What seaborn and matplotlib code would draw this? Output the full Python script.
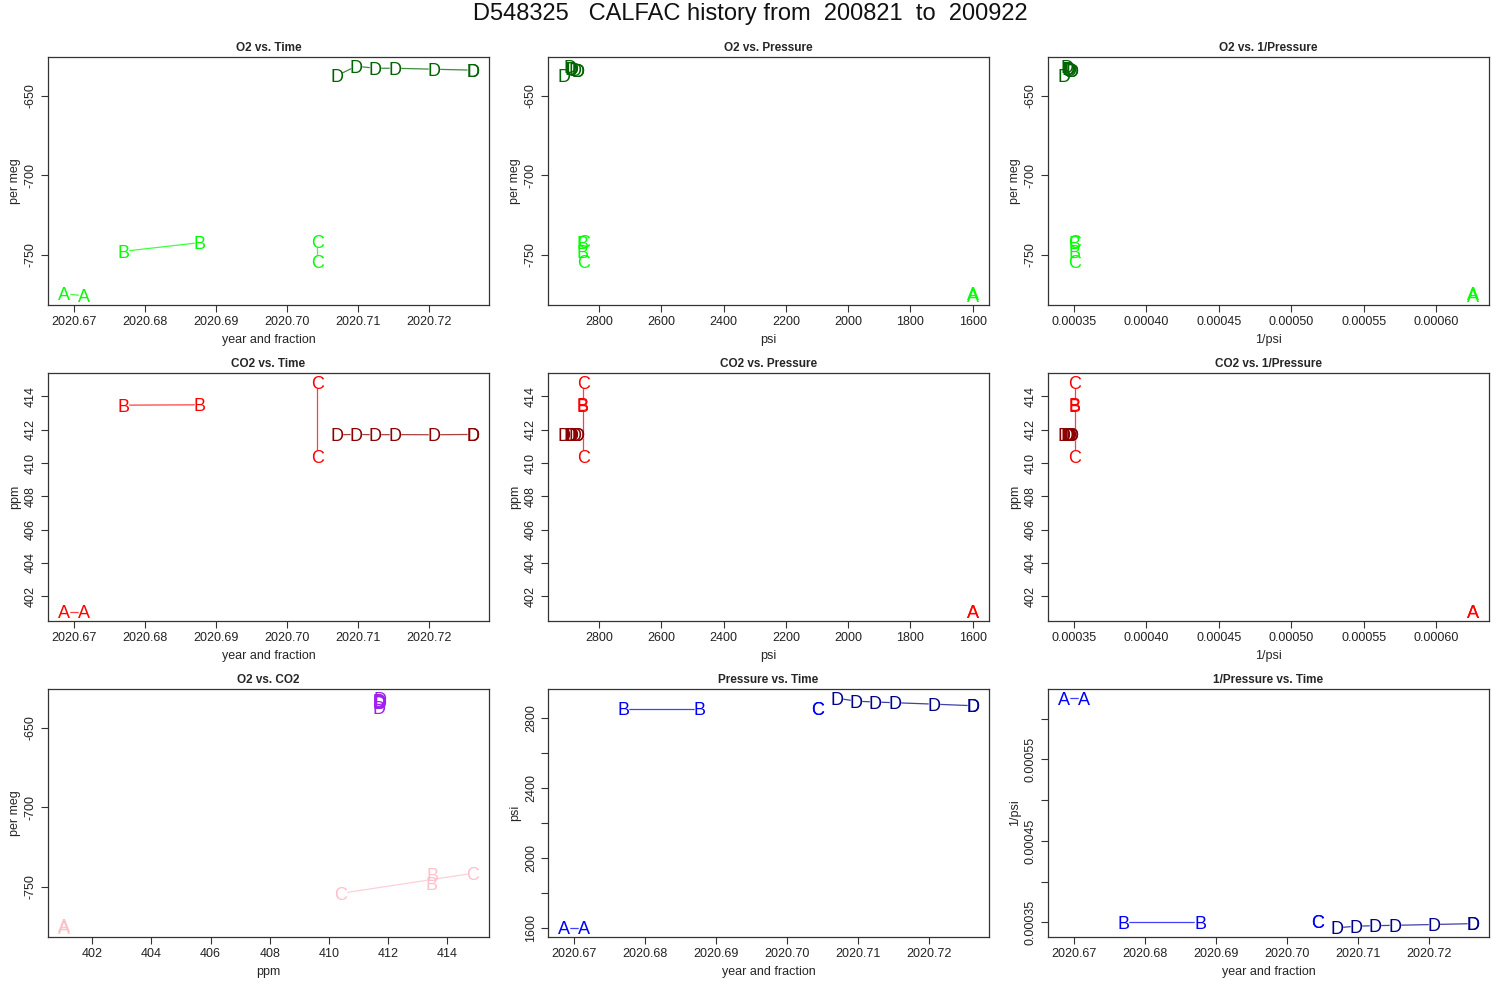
import numpy as np
import pandas as pd
import matplotlib
matplotlib.use("Agg")
import matplotlib.pyplot as plt
import seaborn as sns

# ---------------- data ----------------
groups = ["A", "A", "B", "B", "C", "C", "D", "D", "D", "D", "D", "D", "D"]
time_yr = [2020.6687, 2020.6715, 2020.6770, 2020.6878, 2020.7043, 2020.7043,
           2020.7071, 2020.7098, 2020.7125, 2020.7153, 2020.7207, 2020.7262, 2020.7262]
o2_permeg = [-774.3, -775.6, -747.7, -742.2, -741.4, -754.0,
             -637.4, -631.5, -632.8, -632.8, -633.4, -634.0, -634.2]
co2_ppm = [401.06, 401.06, 413.48, 413.50, 414.86, 410.40,
           411.70, 411.72, 411.70, 411.71, 411.70, 411.72, 411.71]
pressure_psi = [1600, 1600, 2853, 2853, 2851, 2851,
                2912, 2895, 2890, 2886, 2878, 2869, 2868]

main_title = "D548325   CALFAC history from  200821  to  200922"

time_ticks = [2020.67, 2020.68, 2020.69, 2020.70, 2020.71, 2020.72]
psi_ticks = [1600, 1800, 2000, 2200, 2400, 2600, 2800]
invpsi_ticks = [0.00035, 0.00040, 0.00045, 0.00050, 0.00055, 0.00060]
co2_ticks = [402, 404, 406, 408, 410, 412, 414]
o2_ticks = [-750, -700, -650]

pal_o2 = {"A": "#00FF00", "B": "#00FF00", "C": "#00FF00", "D": "#006400"}
pal_co2 = {"A": "#FF0000", "B": "#FF0000", "C": "#FF0000", "D": "#8B0000"}
pal_mix = {"A": "#FFC0CB", "B": "#FFC0CB", "C": "#FFC0CB", "D": "#A020F0"}
pal_p = {"A": "#0000FF", "B": "#0000FF", "C": "#0000FF", "D": "#00008B"}

df = pd.DataFrame({"grp": groups, "time": time_yr, "o2": o2_permeg,
                   "co2": co2_ppm, "psi": pressure_psi})
df["invpsi"] = 1.0 / df["psi"]

# ---------------- style ----------------
sns.set_theme(style="ticks")
plt.rcParams["font.family"] = ["Liberation Sans", "DejaVu Sans"]
plt.rcParams["axes.edgecolor"] = "#333333"
plt.rcParams["axes.linewidth"] = 0.9
plt.rcParams["xtick.color"] = "#333333"
plt.rcParams["ytick.color"] = "#333333"
plt.rcParams["xtick.labelcolor"] = "#222222"
plt.rcParams["ytick.labelcolor"] = "#222222"

fig = plt.figure(figsize=(15, 10), dpi=100)
fig.text(0.5, 0.986, main_title, ha="center", va="center", fontsize=17, color="#111111")

col_left = [0.032, 0.3653, 0.6987]
row_bottom = [0.695, 0.379, 0.063]
W, H = 0.294, 0.248


def rlim(vals):
    lo, hi = float(np.min(vals)), float(np.max(vals))
    pad = 0.04 * (hi - lo)
    return lo - pad, hi + pad


def panel(r, c, xcol, ycol, pal, title, xlabel, ylabel, xticks, yticks,
          xfmt, yfmt, xrev=False, ylabel_every=1):
    ax = fig.add_axes([col_left[c], row_bottom[r], W, H])
    sns.lineplot(data=df, x=xcol, y=ycol, hue="grp", palette=pal,
                 estimator=None, sort=False, legend=False, ax=ax,
                 linewidth=0.9, alpha=0.75)
    for line in ax.get_lines():
        line.set_zorder(2)
    # white discs under each letter: the small gaps of R's type="b"
    sns.scatterplot(data=df, x=xcol, y=ycol, color="white", s=70,
                    linewidth=0, legend=False, ax=ax, zorder=3)
    for _, row in df.iterrows():
        ax.text(row[xcol], row[ycol], row["grp"], color=pal[row["grp"]],
                ha="center", va="center_baseline", fontsize=13, zorder=5)
    xl = rlim(df[xcol])
    yl = rlim(df[ycol])
    ax.set_xlim(xl[::-1] if xrev else xl)
    ax.set_ylim(yl)
    ax.set_xticks(xticks)
    ax.set_xticklabels([xfmt(v) for v in xticks])
    ax.set_yticks(yticks)
    ax.set_yticklabels([yfmt(v) if i % ylabel_every == 0 else ""
                        for i, v in enumerate(yticks)])
    ax.tick_params(axis="both", direction="out", length=5, width=0.8,
                   labelsize=9, pad=3)
    for lab in ax.get_yticklabels():
        lab.set_rotation(90)
        lab.set_va("center")
    ax.set_title(title, fontsize=8.5, fontweight="bold", pad=4)
    ax.set_xlabel(xlabel, fontsize=9, labelpad=4)
    ax.set_ylabel(ylabel, fontsize=9, labelpad=3)
    for s in ax.spines.values():
        s.set_visible(True)
        s.set_zorder(6)
    return ax


ftime = lambda v: f"{v:.2f}"
fint = lambda v: f"{v:d}" if isinstance(v, int) else f"{v:.0f}"
finv = lambda v: f"{v:.5f}"

panel(0, 0, "time", "o2", pal_o2, "O2 vs. Time", "year and fraction", "per meg",
      time_ticks, o2_ticks, ftime, fint)
panel(0, 1, "psi", "o2", pal_o2, "O2 vs. Pressure", "psi", "per meg",
      psi_ticks, o2_ticks, fint, fint, xrev=True)
panel(0, 2, "invpsi", "o2", pal_o2, "O2 vs. 1/Pressure", "1/psi", "per meg",
      invpsi_ticks, o2_ticks, finv, fint)

panel(1, 0, "time", "co2", pal_co2, "CO2 vs. Time", "year and fraction", "ppm",
      time_ticks, co2_ticks, ftime, fint)
panel(1, 1, "psi", "co2", pal_co2, "CO2 vs. Pressure", "psi", "ppm",
      psi_ticks, co2_ticks, fint, fint, xrev=True)
panel(1, 2, "invpsi", "co2", pal_co2, "CO2 vs. 1/Pressure", "1/psi", "ppm",
      invpsi_ticks, co2_ticks, finv, fint)

panel(2, 0, "co2", "o2", pal_mix, "O2 vs. CO2", "ppm", "per meg",
      co2_ticks, o2_ticks, fint, fint)
panel(2, 1, "time", "psi", pal_p, "Pressure vs. Time", "year and fraction", "psi",
      time_ticks, psi_ticks, ftime, fint, ylabel_every=2)
panel(2, 2, "time", "invpsi", pal_p, "1/Pressure vs. Time", "year and fraction", "1/psi",
      time_ticks, invpsi_ticks, ftime, finv, ylabel_every=2)

fig.savefig("out.png", dpi=100)
